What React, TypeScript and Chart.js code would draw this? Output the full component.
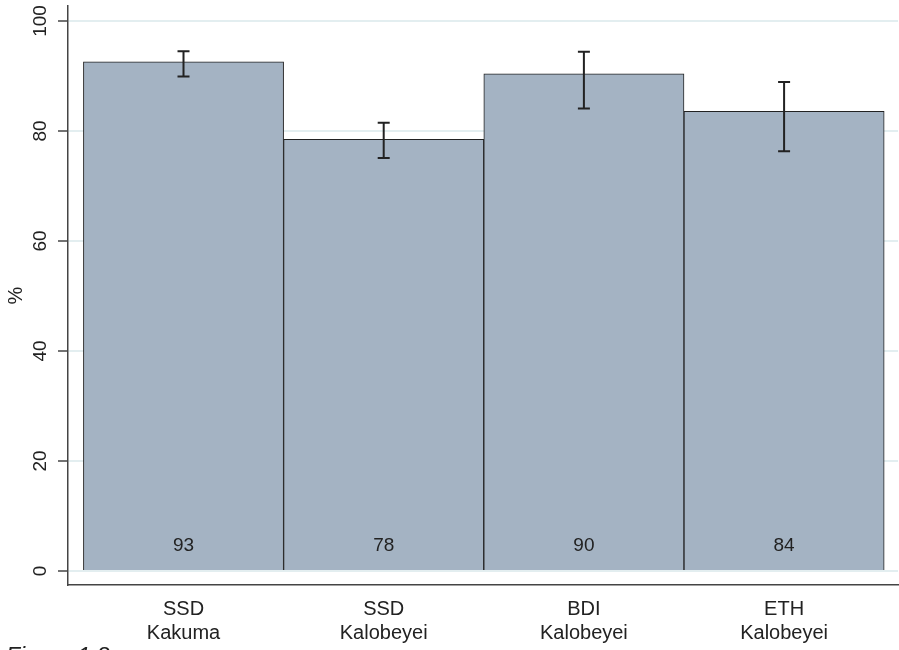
import React, { useEffect, useRef } from "react";
import { Chart, registerables } from "chart.js";

Chart.register(...registerables);

const categories: string[][] = [
  ["SSD", "Kakuma"],
  ["SSD", "Kalobeyei"],
  ["BDI", "Kalobeyei"],
  ["ETH", "Kalobeyei"],
];
const values: number[] = [92.6, 78.5, 90.4, 83.6];
const ciLow: number[] = [89.9, 75.1, 84.1, 76.3];
const ciHigh: number[] = [94.5, 81.5, 94.4, 88.9];
const valueLabels: string[] = ["93", "78", "90", "84"];
const yTicks: number[] = [0, 20, 40, 60, 80, 100];
const yTitle = "%";
const caption = "Figure 1.8";

const FONT = "'Liberation Sans', Arial, Helvetica, sans-serif";
const TEXT = "#222";

const overlay = {
  id: "overlay",
  afterDatasetsDraw(chart: any) {
    const { ctx, scales } = chart;
    const x = scales.x;
    const y = scales.y;
    ctx.save();
    // error bars
    ctx.strokeStyle = "#222";
    ctx.lineWidth = 2;
    values.forEach((_, i) => {
      const px = x.getPixelForValue(i);
      const yl = y.getPixelForValue(ciLow[i]);
      const yh = y.getPixelForValue(ciHigh[i]);
      ctx.beginPath();
      ctx.moveTo(px, yl);
      ctx.lineTo(px, yh);
      ctx.moveTo(px - 6, yl);
      ctx.lineTo(px + 6, yl);
      ctx.moveTo(px - 6, yh);
      ctx.lineTo(px + 6, yh);
      ctx.stroke();
    });
    // value labels
    ctx.fillStyle = TEXT;
    ctx.font = `19px ${FONT}`;
    ctx.textAlign = "center";
    ctx.textBaseline = "middle";
    valueLabels.forEach((lab, i) => {
      const px = x.getPixelForValue(i);
      ctx.fillText(lab, px, y.getPixelForValue(0) - 25);
    });
    // y tick labels rotated
    ctx.font = `19px ${FONT}`;
    yTicks.forEach((t) => {
      const py = y.getPixelForValue(t);
      ctx.save();
      ctx.translate(41, py);
      ctx.rotate(-Math.PI / 2);
      ctx.fillText(String(t), 0, 0);
      ctx.restore();
    });
    // y title
    ctx.save();
    ctx.translate(16, (chart.chartArea.top + chart.chartArea.bottom) / 2);
    ctx.rotate(-Math.PI / 2);
    ctx.font = `20px ${FONT}`;
    ctx.fillText(yTitle, 0, 0);
    ctx.restore();
    // caption (cut off at the bottom)
    ctx.font = `italic 23px ${FONT}`;
    ctx.textAlign = "left";
    ctx.textBaseline = "alphabetic";
    ctx.fillText(caption, 6, 664);
    ctx.restore();
  },
};

export default function App() {
  const ref = useRef<HTMLCanvasElement | null>(null);
  useEffect(() => {
    if (!ref.current) return;
    const chart = new Chart(ref.current, {
      type: "bar",
      data: {
        datasets: [
          {
            data: values.map((v, i) => ({ x: i, y: v })),
            backgroundColor: "#a4b3c3",
            borderColor: "#222",
            borderWidth: 1,
            barPercentage: 1,
            categoryPercentage: 1,
          },
        ],
      },
      options: {
        animation: false,
        responsive: false,
        events: [],
        layout: { padding: { top: 6, right: 1, left: 0, bottom: 0 } },
        plugins: { legend: { display: false }, tooltip: { enabled: false } },
        scales: {
          x: {
            type: "linear",
            min: -0.577,
            max: 3.569,
            offset: false,
            grid: { display: true, color: "transparent", drawTicks: false, offset: false },
            border: { display: true, color: "#444", width: 1.5 },
            afterBuildTicks: (s: any) => {
              s.ticks = categories.map((_, i) => ({ value: i }));
            },
            ticks: {
              autoSkip: false,
              maxRotation: 0,
              minRotation: 0,
              padding: 12,
              color: TEXT,
              font: { family: FONT, size: 20, lineHeight: 1.2 },
              callback: (v: any) => categories[Number(v)] ?? "",
            },
            afterFit: (s: any) => {
              s.height = 65;
            },
          },
          y: {
            type: "linear",
            min: -2.545,
            max: 102.73,
            afterBuildTicks: (s: any) => {
              s.ticks = yTicks.map((v) => ({ value: v }));
            },
            ticks: { display: false },
            grid: {
              color: "#e3eef0",
              lineWidth: 2,
              tickColor: "#444",
              tickLength: 10,
              tickWidth: 1.5,
              drawTicks: true,
            },
            border: { display: true, color: "#444", width: 1.5 },
            afterFit: (s: any) => {
              s.width = 68;
            },
          },
        },
      },
      plugins: [overlay],
    });
    return () => chart.destroy();
  }, []);
  return (
    <div style={{ position: "fixed", left: 0, top: 0, width: 899, height: 650, background: "#fff" }}>
      <canvas ref={ref} width={899} height={650} style={{ display: "block" }} />
    </div>
  );
}
